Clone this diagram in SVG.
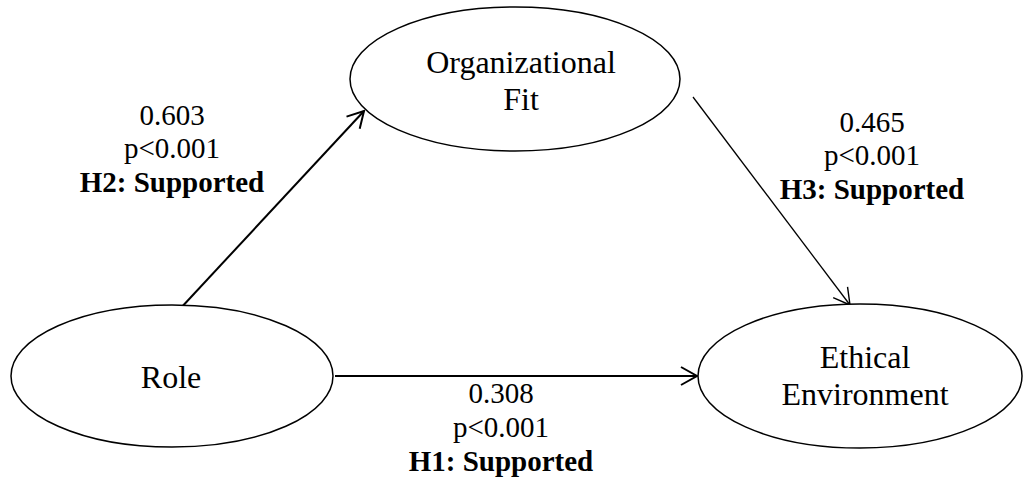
<svg xmlns="http://www.w3.org/2000/svg" width="1024" height="480" viewBox="0 0 1024 480">
<style>
.node{fill:#fff;stroke:#000;stroke-width:1.5}
.nt{font-family:"Liberation Serif","Times New Roman",serif;font-size:32px;fill:#000;text-anchor:middle}
.lt{font-family:"Liberation Serif","Times New Roman",serif;font-size:29px;fill:#000;text-anchor:middle}
.b{font-weight:bold}
.edge{stroke:#000;fill:none}
</style>
<defs>
<marker id="ah" markerUnits="userSpaceOnUse" markerWidth="24" markerHeight="24" refX="17" refY="10" orient="auto" overflow="visible">
<path d="M1,1 L17,10 L1,19" fill="none" stroke="#000" stroke-width="2"/>
</marker>
<marker id="ah2" markerUnits="userSpaceOnUse" markerWidth="24" markerHeight="24" refX="17" refY="10" orient="auto" overflow="visible">
<path d="M1,1 L17,10 L1,19" fill="none" stroke="#000" stroke-width="1.4"/>
</marker>
</defs>
<rect width="1024" height="480" fill="#fff"/>
<g id="connectors">
<line class="edge" x1="179" y1="310" x2="364" y2="111" stroke-width="2" marker-end="url(#ah)"/>
<line class="edge" x1="693" y1="97" x2="850" y2="305" stroke-width="1.3" marker-end="url(#ah2)"/>
<line class="edge" x1="335" y1="376" x2="697" y2="376" stroke-width="2" marker-end="url(#ah)"/>
</g>
<g id="node-org">
<ellipse class="node" cx="515" cy="79" rx="165" ry="72"/>
<text class="nt" x="521" y="73">Organizational</text>
<text class="nt" x="521" y="110">Fit</text>
</g>
<g id="node-role">
<ellipse class="node" cx="172" cy="376" rx="161" ry="71"/>
<text class="nt" x="171" y="388">Role</text>
</g>
<g id="node-ethical">
<ellipse class="node" cx="860" cy="376" rx="162" ry="72"/>
<text class="nt" x="865" y="368">Ethical</text>
<text class="nt" x="865" y="405">Environment</text>
</g>
<g id="label-h2">
<text class="lt" x="172" y="125">0.603</text>
<text class="lt" x="172" y="158">p&lt;0.001</text>
<text class="lt b" x="172" y="192">H2: Supported</text>
</g>
<g id="label-h3">
<text class="lt" x="872" y="132">0.465</text>
<text class="lt" x="872" y="165">p&lt;0.001</text>
<text class="lt b" x="872" y="199">H3: Supported</text>
</g>
<g id="label-h1">
<text class="lt" x="501" y="403">0.308</text>
<text class="lt" x="501" y="437">p&lt;0.001</text>
<text class="lt b" x="501" y="471">H1: Supported</text>
</g>
</svg>
